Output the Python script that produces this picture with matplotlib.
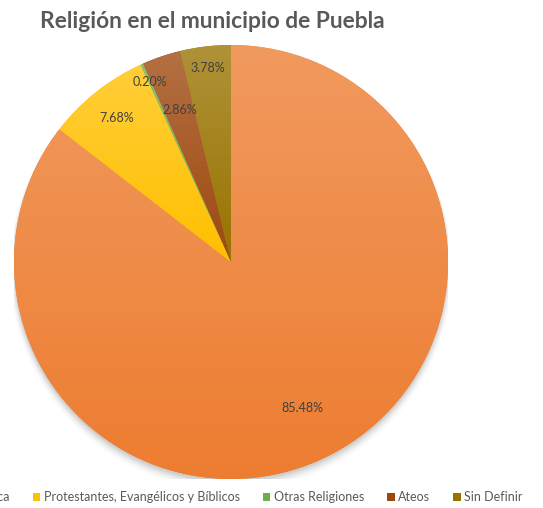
import numpy as np
import matplotlib
matplotlib.use("Agg")
import matplotlib.pyplot as plt
from matplotlib.colors import to_rgb

categories = ["Católica", "Protestantes, Evangélicos y Bíblicos", "Otras Religiones", "Ateos", "Sin Definir"]
values = [85.48, 7.68, 0.20, 2.86, 3.78]
colors = ["#ED7D31", "#FFC000", "#70AD47", "#9E480E", "#997300"]
title = "Religión en el municipio de Puebla"
label_dist = [0.75, 0.85, 0.91, 0.74, 0.90]

W, H = 543, 508
fig = plt.figure(figsize=(W / 100, H / 100), dpi=100)
cx, cy, R = 231, 262, 217
ax = fig.add_axes([(cx - R) / W, (H - cy - R) / H, 2 * R / W, 2 * R / H])

# soft shadow
for i, a in enumerate(np.linspace(0.05, 0.01, 6)):
    sh = plt.Circle((0, -0.012 - i * 0.004), 1.0 + i * 0.004, color="black", alpha=a, zorder=0, lw=0)
    ax.add_patch(sh)

wedges, texts, autotexts = ax.pie(values, colors=colors, startangle=90, counterclock=False,
                                  autopct=lambda p: f"{p:.2f}%", radius=1.0,
                                  wedgeprops=dict(linewidth=0, zorder=2),
                                  textprops=dict(fontsize=9, color="#404040", family="Lato"))

def lighten(c, f):
    r = np.array(to_rgb(c))
    return r + (1 - r) * f

for w, c, t, d in zip(wedges, colors, autotexts, label_dist):
    verts = w.get_path().vertices
    y0, y1 = verts[:, 1].min(), verts[:, 1].max()
    x0, x1 = verts[:, 0].min(), verts[:, 0].max()
    top = lighten(c, 0.22)
    bot = np.array(to_rgb(c))
    n = 64
    grad = np.linspace(0, 1, n)[:, None, None]
    img = top[None, None, :] * (1 - grad) + bot[None, None, :] * grad
    im = ax.imshow(img, extent=[x0, x1, y0, y1], origin="upper", aspect="auto", zorder=3, interpolation="bilinear")
    im.set_clip_path(w)
    ang = np.deg2rad((w.theta1 + w.theta2) / 2)
    t.set_position((d * np.cos(ang), d * np.sin(ang)))
    t.set_zorder(5)

ax.set_xlim(-1, 1)
ax.set_ylim(-1, 1)
ax.set_aspect("equal")
ax.axis("off")

fig.text(212 / W, 1 - 22 / H, title, ha="center", va="center", fontsize=16.4, fontweight="bold",
         color="#595959", family="Lato")

leg = fig.legend(wedges, categories, loc="center right", bbox_to_anchor=(523 / W, 1 - 497 / H),
                 ncol=5, frameon=False, handlelength=0.6, handleheight=0.6,
                 handletextpad=0.3, columnspacing=1.83, prop=dict(family="Lato", size=9),
                 borderpad=0, borderaxespad=0)
for txt in leg.get_texts():
    txt.set_color("#595959")

fig.savefig("out.png", dpi=100)
